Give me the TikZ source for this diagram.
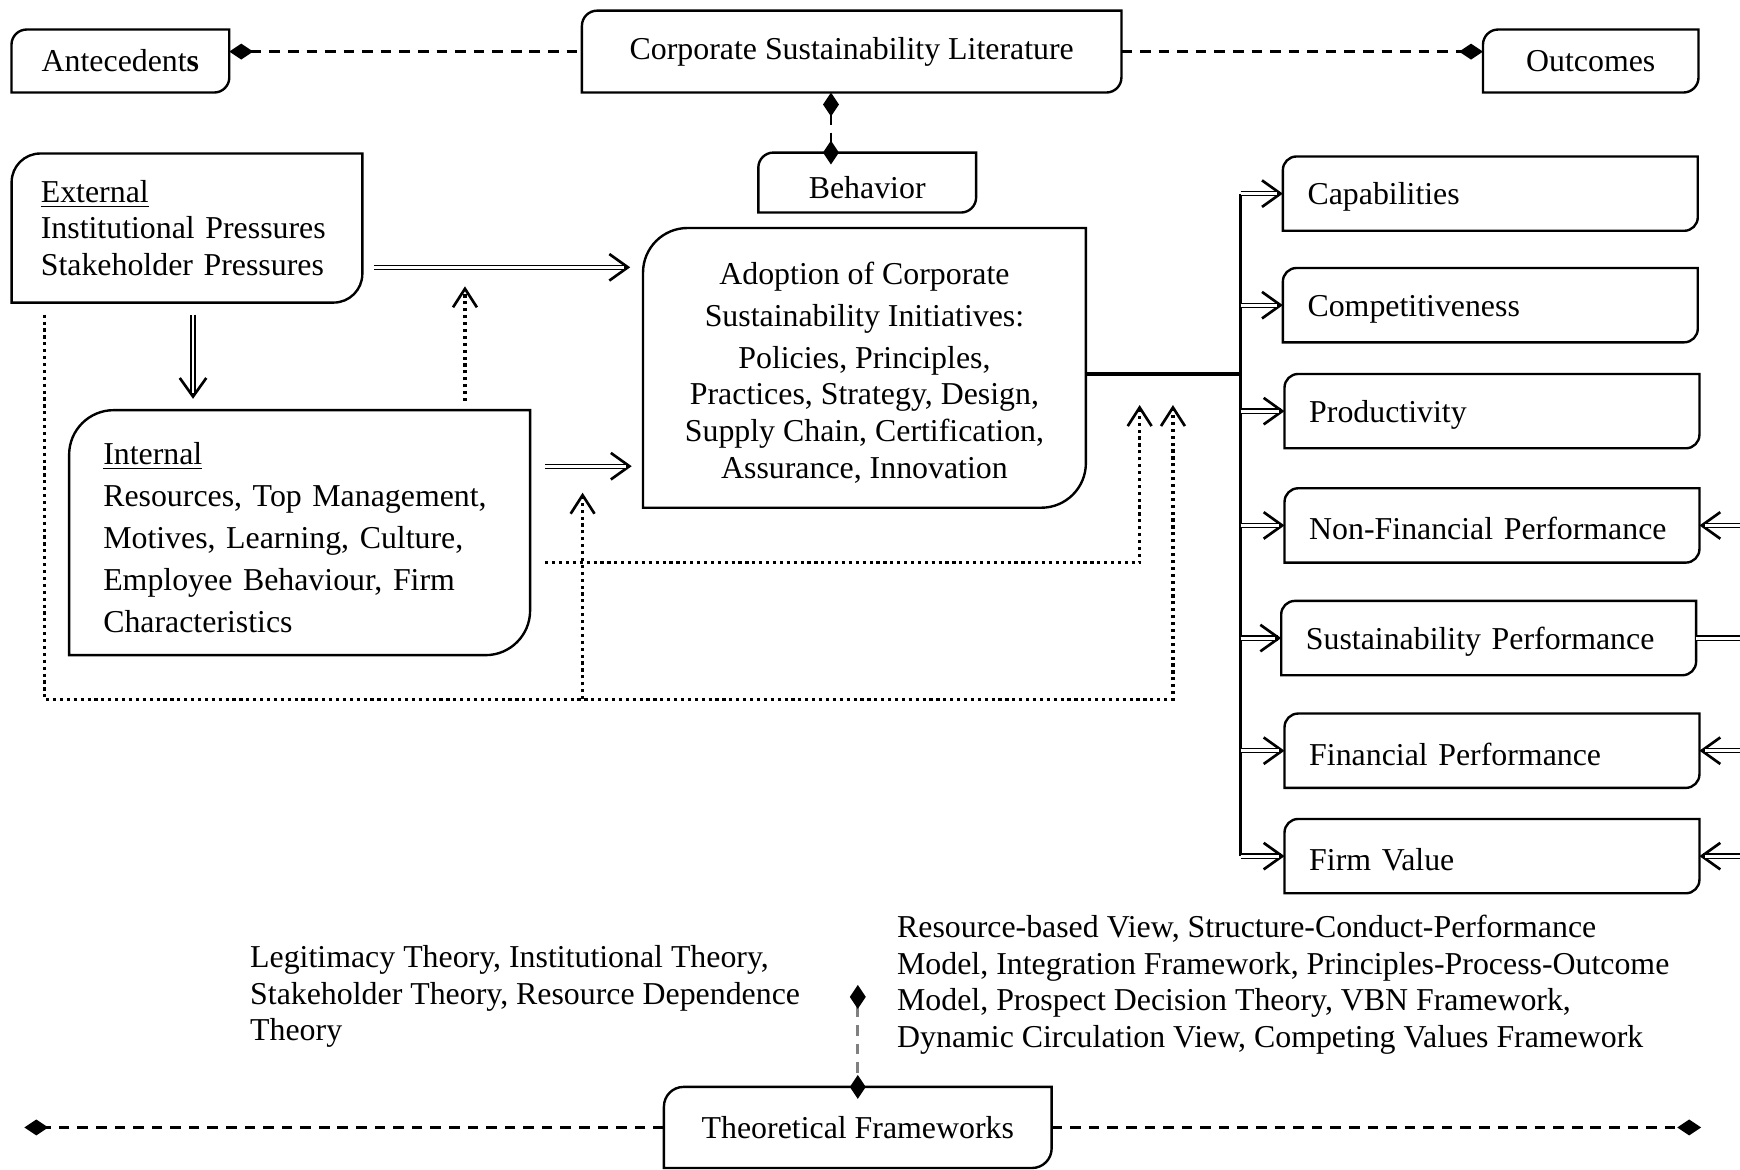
\documentclass[tikz,border=0pt]{standalone}
\usepackage{fontspec}
\setmainfont{Liberation Serif}
\usetikzlibrary{arrows.meta}

% outline with rounded top-left and bottom-right corners
\newcommand{\leafbox}[2]{%
  \draw[boxline] ([yshift=-#2]#1.north west) -- (#1.south west)
    -- ([xshift=-#2]#1.south east) arc[start angle=-90,end angle=0,radius=#2]
    -- (#1.north east) -- ([xshift=#2]#1.north west)
    arc[start angle=90,end angle=180,radius=#2] -- cycle;}

\begin{document}
\begin{tikzpicture}[x=0.0147cm,y=-0.0147cm,
    every node/.style={font=\fontsize{12pt}{14.5pt}\selectfont}]

  \tikzset{box/.style 2 args={inner sep=2pt, minimum width=#1, minimum height=#2, align=center},
    outbox/.style={inner xsep=0.32cm, inner ysep=0pt, text width=4.84cm, minimum height=0.97cm, align=left,
      execute at begin node={\rule{0pt}{11pt}}},
    boxline/.style={line width=0.9pt},
    dblarrow/.style={line width=2pt, -{Straight Barb[length=7pt,width=10pt,line width=1pt]},
      postaction={draw=white, line width=1.1pt, arrows=-, shorten >=2.2pt}},
    dblline/.style={double, double distance=1.1pt, line width=0.45pt},
    dotarrow/.style={line width=1.2pt, dash pattern=on 1.2pt off 1.4pt, -{Straight Barb[length=7pt,width=9pt,line width=1pt]}},
    dashlink/.style={line width=1pt, dash pattern=on 4pt off 3pt},
    dia/.tip={Diamond[length=9pt,width=6pt,color=black]},
    trunk/.style={line width=1.3pt}}

  \useasboundingbox (0,0) rectangle (1568,1054);

%% Boxes
  \node[box={2.87cm}{0.82cm}] (ant) at (108.5,55) {Antecedent\textbf{s}};
  \node[box={7.13cm}{1.07cm}] (csl) at (767.5,46.5) {Corporate Sustainability Literature};
  \node[box={2.84cm}{0.82cm}] (out) at (1433.5,55) {Outcomes};
  \node[box={2.87cm}{0.78cm}] (beh) at (781.5,164.5) {\rule{0pt}{12pt}Behavior};
  \node[box={4.63cm}{1.96cm}, align=left, text width=3.87cm, inner xsep=0.38cm,
    font=\fontsize{12pt}{13.8pt}\selectfont] (ext) at (168.5,205.5)
    {\underline{External}\\Institutional Pressures\\Stakeholder Pressures};
  \node[box={6.09cm}{3.23cm}, align=left, text width=5.2cm, inner xsep=0.44cm,
    font=\fontsize{12pt}{15.8pt}\selectfont] (int) at (270,480)
    {\rule{0pt}{12pt}\underline{Internal}\\Resources, Top Management,\\Motives, Learning, Culture,\\Employee Behaviour, Firm\\Characteristics};
  \node[box={5.85cm}{3.69cm}, font=\fontsize{12pt}{13.8pt}\selectfont] (adop) at (779,331.5)
    {\rule{0pt}{12pt}Adoption of Corporate\\[2pt]Sustainability Initiatives:\\[2pt]Policies, Principles,\\Practices, Strategy, Design,\\Supply Chain, Certification,\\Assurance, Innovation};

  \node[outbox] (cap) at (1343,174.5) {Capabilities};
  \node[outbox] (comp) at (1343,275) {Competitiveness};
  \node[outbox] (prod) at (1344.5,370.5) {Productivity};
  \node[outbox] (nonfin) at (1344.5,473.5) {Non-Financial Performance};
  \node[outbox] (sust) at (1341.5,575) {Sustainability Performance};
  \node[outbox] (fin) at (1344.5,676.5) {Financial Performance};
  \node[outbox] (firm) at (1344.5,771.5) {Firm Value};

  \node[box={5.12cm}{1.06cm}] (theo) at (773,1016) {Theoretical Frameworks};

  \node[align=left, anchor=west, inner sep=0pt, font=\fontsize{12pt}{13.8pt}\selectfont] (roottheo) at (225,898)
    {Legitimacy Theory, Institutional Theory,\\Stakeholder Theory, Resource Dependence\\Theory};
  \node[align=left, anchor=west, inner sep=0pt, font=\fontsize{12pt}{13.8pt}\selectfont] (outtheo) at (808,887.5)
    {Resource-based View, Structure-Conduct-Performance\\Model, Integration Framework, Principles-Process-Outcome\\Model, Prospect Decision Theory, VBN Framework,\\Dynamic Circulation View, Competing Values Framework};

  \leafbox{ant}{0.2cm}
  \leafbox{csl}{0.2cm}
  \leafbox{out}{0.2cm}
  \leafbox{beh}{0.2cm}
  \leafbox{ext}{0.38cm}
  \leafbox{int}{0.59cm}
  \leafbox{adop}{0.59cm}
  \leafbox{cap}{0.18cm}
  \leafbox{comp}{0.18cm}
  \leafbox{prod}{0.18cm}
  \leafbox{nonfin}{0.18cm}
  \leafbox{sust}{0.18cm}
  \leafbox{fin}{0.18cm}
  \leafbox{firm}{0.18cm}
  \leafbox{theo}{0.26cm}

%Links
  \path (csl.west -| ant.east) edge[dashlink, arrows={dia-}] (csl.west);
  \path (csl.east) edge[dashlink, arrows={-dia}] (csl.east -| out.west);
  \coordinate (b1) at ([xshift=-0.48cm]beh.north);
  \path (b1 |- csl.south) edge[dashlink, arrows={dia-dia}, shorten >=-4.5pt] (b1);

%Arrows
  \coordinate (e1) at ([xshift=0.15cm,yshift=-0.52cm]ext.east);
  \coordinate (f1) at (e1 -| adop.west);
  \path (e1) edge[dblarrow] ([xshift=-0.17cm]f1);
  \coordinate (e3) at ([xshift=0.08cm,yshift=-0.16cm]ext.south);
  \coordinate (f3) at (e3 |- int.north);
  \path (e3) edge[dblarrow] ([yshift=0.15cm]f3);
  \coordinate (e2) at ([xshift=0.2cm,yshift=0.88cm]int.east);
  \coordinate (f2) at (e2 -| adop.west);
  \path (e2) edge[dblarrow] ([xshift=-0.15cm]f2);

  \coordinate (hub) at (1118,337);
  \draw[trunk] (adop.east |- hub) -- (hub);
  \draw[trunk] (hub |- cap.west) -- (hub |- firm.west);
  \path (hub |- cap.west) edge[dblarrow] (cap.west);
  \path (hub |- comp.west) edge[dblarrow] (comp.west);
  \path (hub |- prod.west) edge[dblarrow] (prod.west);
  \path (hub |- nonfin.west) edge[dblarrow] (nonfin.west);
  \path (hub |- sust.west) edge[dblarrow] (sust.west);
  \path (hub |- fin.west) edge[dblarrow] (fin.west);
  \path (hub |- firm.west) edge[dblarrow] (firm.west);

  \coordinate (rim) at (1568,0);
  \path (sust.east) edge[dblline] (sust.east -| rim);
  \path (rim |- nonfin.east) edge[dblarrow] (nonfin.east);
  \path (rim |- fin.east) edge[dblarrow] (fin.east);
  \path (rim |- firm.east) edge[dblarrow] (firm.east);

%Dotted feedback
  \coordinate (up1) at (419,258);
  \path (up1 |- int.north) edge[dotarrow, shorten <=0.12cm] (up1);
  \coordinate (d1) at ([xshift=0.2cm,yshift=-0.4cm]int.east);
  \coordinate (up2) at (1027,365);
  \draw[dotarrow] (d1) -| (up2);
  \coordinate (d2) at ([xshift=0.43cm,yshift=-0.16cm]ext.south west);
  \coordinate (up3) at (1057,365);
  \coordinate (low) at (1057,630);
  \draw[dotarrow] (d2) |- (low) -- (up3);
  \coordinate (up4) at (525,444);
  \path (up4 |- low) edge[dotarrow] (up4);

%Theories
  \coordinate (t1) at ([yshift=1.35cm]theo.north);
  \path (t1) edge[dashlink, gray, arrows={dia-dia}, shorten >=-4.5pt] (theo.north);
  \coordinate (lft) at (22,1016);
  \coordinate (rgt) at (1533,1016);
  \path (theo.west) edge[dashlink, arrows={-dia}] (lft);
  \path (theo.east) edge[dashlink, arrows={-dia}] (rgt);

\end{tikzpicture}
\end{document}
